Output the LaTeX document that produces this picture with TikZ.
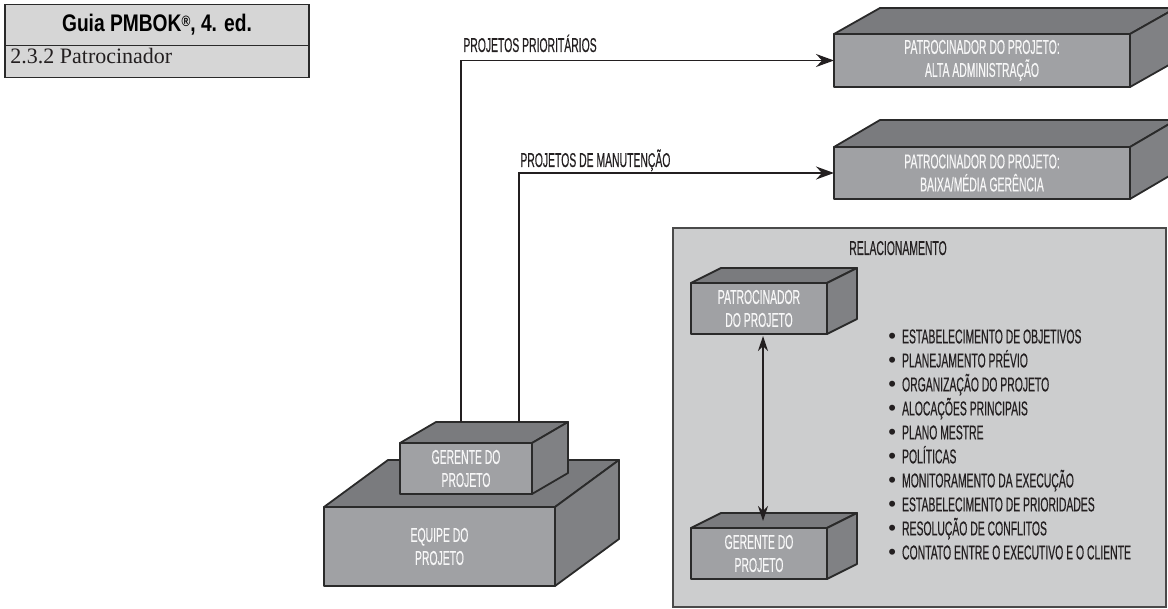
\documentclass[tikz,border=0pt]{standalone}
\usepackage{fontspec}
\setmainfont{Liberation Sans}[FakeStretch=0.52, FakeBold=0.4]
\newfontfamily\dotfont{Liberation Sans}
\newfontfamily\titlefont{Liberation Sans}[FakeStretch=0.8]
\newfontfamily\subfont{Liberation Serif}
\usetikzlibrary{arrows.meta,calc}

\definecolor{frontgray}{HTML}{A0A1A4}
\definecolor{topgray}{HTML}{7A7B7E}
\definecolor{sidegray}{HTML}{808184}
\definecolor{edgegray}{HTML}{2A2A2A}
\definecolor{panelgray}{HTML}{CCCDCE}
\definecolor{headgray}{HTML}{D6D6D6}
\definecolor{ink}{HTML}{231F20}
\definecolor{boxink}{HTML}{F7F7F7}

\tikzset{
  face/.style={draw=edgegray, line width=0.9pt, line join=round},
  front/.style={face, fill=frontgray, text=boxink, align=center, inner sep=0pt, outer sep=0pt},
  cell/.style={draw=edgegray, fill=headgray, line width=0.8pt, inner sep=0pt, outer sep=0pt},
  conn/.style={draw=ink, line width=0.7pt},
  bigtip/.style={-{Stealth[length=9pt,width=6.5pt,inset=3pt]}},
  smalltips/.style={{Stealth[length=7.5pt,width=5pt,inset=2.5pt]}-{Stealth[length=7.5pt,width=5pt,inset=2.5pt]}},
  caption/.style={text=ink, inner sep=0pt, anchor=base west},
}

% front face as a named node, then its top and right faces
% #1 name, #2 centre, #3 width, #4 height, #5 depth offset, #6 text
\newcommand{\cuboid}[6]{%
  \node[front, minimum width=#3*0.5pt, minimum height=#4*0.5pt] (#1) at (#2) {#6};
  \filldraw[face, fill=topgray] (#1.north west) -- ++(#5) -- ($(#1.north east)+(#5)$) -- (#1.north east) -- cycle;
  \filldraw[face, fill=sidegray] (#1.north east) -- ++(#5) -- ($(#1.south east)+(#5)$) -- (#1.south east) -- cycle;
}
\newcommand{\dotitem}{{\dotfont\fontsize{11}{11}\selectfont •}\hspace{3pt}}

\begin{document}
\begin{tikzpicture}[x=0.5pt, y=-0.5pt, font=\fontsize{10}{11.5}\selectfont]
\useasboundingbox (0,0) rectangle (1168,609);

% reference card, top left
\node[cell, minimum width=304*0.5pt, minimum height=41*0.5pt] (hdTitle) at (157,25)
  {\titlefont\bfseries\fontsize{12}{12}\selectfont Guia PMBOK\raisebox{0.45ex}{\fontsize{7.5}{7.5}\selectfont ®}, 4. ed.};
\node[cell, minimum width=304*0.5pt, minimum height=32*0.5pt] (hdSub) at (157,61.5) {};
\node[caption] (hdSubText) at (10,64) {\subfont\fontsize{11}{12}\selectfont 2.3.2 Patrocinador};

% sponsors
\cuboid{spTop}{982,60.5}{296}{53}{46,-26}{\fontsize{10}{12.8}\selectfont PATROCINADOR DO PROJETO:\\ALTA ADMINISTRAÇÃO}
\cuboid{spLow}{982,173}{296}{52}{46,-27}{\fontsize{10}{12.8}\selectfont PATROCINADOR DO PROJETO:\\BAIXA/MÉDIA GERÊNCIA}

% team with its manager on top
\cuboid{team}{439.5,546.5}{231}{79}{64,-47}{EQUIPE DO\\PROJETO}
\cuboid{gp}{466,468.5}{132}{51}{36,-21}{GERENTE DO\\PROJETO}

% reporting lines
\coordinate (upA) at ($(gp.north west)+(61,-21)$);
\coordinate (upB) at ($(gp.north west)+(119,-21)$);
\draw[conn, bigtip] (upA) |- (spTop.west);
\draw[conn, bigtip] (upB) |- (spLow.west);
\node[caption] (lbPri) at (463,52) {PROJETOS PRIORITÁRIOS};
\node[caption] (lbMan) at (520,167) {PROJETOS DE MANUTENÇÃO};

% relationship panel
\node[draw=edgegray!85, fill=panelgray, line width=1pt, minimum width=493*0.5pt, minimum height=379*0.5pt, inner sep=0pt, outer sep=0pt] (panel) at (919.5,417.5) {};
\node[text=ink, inner sep=0pt, anchor=base] (relTitle) at (898,255) {RELACIONAMENTO};
\cuboid{pp}{759,308.5}{136}{51}{30,-15}{PATROCINADOR\\DO PROJETO}
\cuboid{pg}{759,553.5}{136}{51}{30,-15}{GERENTE DO\\PROJETO}
\draw[conn, smalltips] ($(pp.south)+(4,2)$) -- ($(pg.north)+(4,-7)$);

\node[anchor=north west, align=left, inner sep=0pt, text=ink, font=\fontsize{10}{12}\selectfont] (duties) at (888,329) {%
\dotitem ESTABELECIMENTO DE OBJETIVOS\\
\dotitem PLANEJAMENTO PRÉVIO\\
\dotitem ORGANIZAÇÃO DO PROJETO\\
\dotitem ALOCAÇÕES PRINCIPAIS\\
\dotitem PLANO MESTRE\\
\dotitem POLÍTICAS\\
\dotitem MONITORAMENTO DA EXECUÇÃO\\
\dotitem ESTABELECIMENTO DE PRIORIDADES\\
\dotitem RESOLUÇÃO DE CONFLITOS\\
\dotitem CONTATO ENTRE O EXECUTIVO E O CLIENTE};
\end{tikzpicture}
\end{document}
